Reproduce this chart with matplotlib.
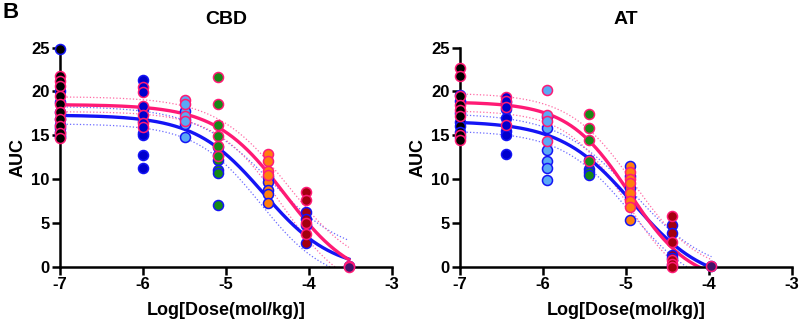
import numpy as np
import matplotlib.pyplot as plt

plt.rcParams['font.family'] = ['Liberation Sans', 'DejaVu Sans']
plt.rcParams['font.weight'] = 'bold'
plt.rcParams['axes.unicode_minus'] = False

# ---- data ----
cbd_doses = [-7.0, -6.0, -5.5, -5.1, -4.5, -4.04, -3.52]
cbd_female = [
    [21.8, 21.2, 20.6, 19.5, 18.6, 17.7, 16.8, 16.0, 15.3, 14.7],
    [20.5, 19.9, 18.3, 17.3, 16.4, 15.9],
    [19.0, 18.6, 17.2, 16.6],
    [21.6, 18.6, 16.2, 14.9, 13.8, 12.6],
    [12.9, 12.0, 10.9, 10.5],
    [8.5, 7.6, 5.0, 3.7],
    [0.1, 0.0],
]
cbd_male = [
    [24.8, 20.0, 18.8, 17.6, 16.8, 16.2, 15.8, 15.4, 15.0, 14.8],
    [21.3, 18.0, 16.6, 15.2, 15.0, 12.7, 11.3],
    [17.8, 16.8, 16.3, 14.8],
    [13.6, 12.7, 12.2, 11.0, 10.7, 7.0],
    [10.2, 9.7, 8.8, 8.3, 7.3],
    [6.2, 5.4, 4.7, 2.7],
    [0.1],
]

at_doses = [-7.0, -6.45, -5.95, -5.45, -4.95, -4.45, -3.97]
at_female = [
    [22.7, 21.7, 19.5, 18.5, 17.9, 17.2, 15.0, 14.4],
    [19.4, 18.9, 18.2, 16.2],
    [20.2, 17.3, 16.6, 14.3],
    [17.4, 15.8, 14.5, 12.0],
    [10.8, 10.0, 9.5, 8.4, 7.5, 6.8],
    [5.8, 2.8, 0.8, 0.3, 0.0],
    [0.1],
]
at_male = [
    [19.6, 18.9, 17.5, 16.5, 16.0, 15.4, 14.8],
    [18.8, 18.0, 17.0, 15.5, 15.0, 12.9],
    [17.1, 15.8, 13.3, 12.0, 11.3, 9.9],
    [12.2, 11.2, 10.8, 10.5],
    [11.5, 10.3, 9.0, 8.0, 5.3],
    [4.8, 3.8, 1.3, 1.0, 0.2],
    [0.1],
]

# fitted curves: top, bottom, logEC50, hill (estimated from the figure)
cbd_female_fit = [18.5, -2.0, -4.29, 1.04]
cbd_female_hi = [19.4, -1.0, -4.25, 1.0]
cbd_female_lo = [17.7, -3.5, -4.33, 1.1]
cbd_male_fit = [17.3, -0.5, -4.55, 1.05]
cbd_male_hi = [18.3, 1.0, -4.45, 0.95]
cbd_male_lo = [16.3, -2.0, -4.58, 1.1]

at_female_fit = [18.8, -2.0, -4.96, 1.17]
at_female_hi = [19.8, -1.0, -4.9, 1.1]
at_female_lo = [17.8, -3.0, -5.0, 1.2]
at_male_fit = [16.6, -2.0, -4.92, 1.0]
at_male_hi = [17.5, -1.0, -4.9, 0.95]
at_male_lo = [15.5, -3.0, -4.95, 1.05]

dose_colors = ['#000000', '#0000CD', '#5AA9F5', '#178A17', '#FF7F0E', '#A3000F', '#43156B']
pink = '#FF1A75'
blue = '#1414F5'


def logistic(x, p):
    top, bottom, c, h = p
    return bottom + (top - bottom) / (1 + 10 ** ((x - c) * h))


def panel(ax, title, doses, female, male, ffit, fhi, flo, mfit, mhi, mlo):
    xs = np.linspace(-7, doses[-1], 300)
    ax.plot(xs, logistic(xs, mhi), ':', color='#6A6AFF', lw=0.9, zorder=2)
    ax.plot(xs, logistic(xs, mlo), ':', color='#6A6AFF', lw=0.9, zorder=2)
    ax.plot(xs, logistic(xs, fhi), ':', color='#FF6AA5', lw=0.9, zorder=2)
    ax.plot(xs, logistic(xs, flo), ':', color='#FF6AA5', lw=0.9, zorder=2)
    ax.plot(xs, logistic(xs, mfit), '-', color=blue, lw=2.4, zorder=2)
    ax.plot(xs, logistic(xs, ffit), '-', color=pink, lw=2.4, zorder=2)
    for d, col, vals in zip(doses, dose_colors, male):
        ax.scatter([d] * len(vals), vals, s=52, c=col, edgecolors=blue,
                   linewidths=1.1, zorder=3, clip_on=False)
    for d, col, vals in zip(doses, dose_colors, female):
        ax.scatter([d] * len(vals), vals, s=52, c=col, edgecolors=pink,
                   linewidths=1.1, zorder=3, clip_on=False)

    ax.set_xlim(-7, -3)
    ax.set_ylim(0, 25)
    ax.set_xticks([-7, -6, -5, -4, -3])
    ax.set_yticks([0, 5, 10, 15, 20, 25])
    ax.spines['top'].set_visible(False)
    ax.spines['right'].set_visible(False)
    for s in ['left', 'bottom']:
        ax.spines[s].set_linewidth(1.8)
    ax.tick_params(width=1.8, length=6, labelsize=12, pad=1.5)
    ax.set_title(title, fontsize=14, fontweight='bold', pad=17)
    ax.set_xlabel('Log[Dose(mol/kg)]', fontsize=13, fontweight='bold', labelpad=7)
    ax.set_ylabel('AUC', fontsize=13, fontweight='bold', labelpad=3)


fig = plt.figure(figsize=(8, 3.28), dpi=100)
ax1 = fig.add_axes([0.075, 0.187, 0.415, 0.668])
ax2 = fig.add_axes([0.575, 0.187, 0.415, 0.668])

panel(ax1, 'CBD', cbd_doses, cbd_female, cbd_male,
      cbd_female_fit, cbd_female_hi, cbd_female_lo,
      cbd_male_fit, cbd_male_hi, cbd_male_lo)
panel(ax2, 'AT', at_doses, at_female, at_male,
      at_female_fit, at_female_hi, at_female_lo,
      at_male_fit, at_male_hi, at_male_lo)

fig.text(0.003, 0.995, 'B', fontsize=16, fontweight='bold', va='top', ha='left')

fig.savefig('out.png', dpi=100)
